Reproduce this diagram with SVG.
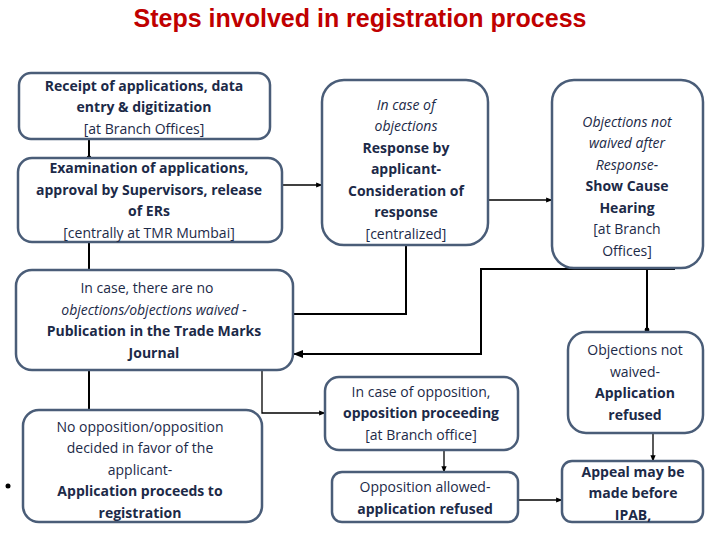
<svg xmlns="http://www.w3.org/2000/svg" width="720" height="540" viewBox="0 0 720 540">
<style>
.b{fill:#fff;stroke:#4a5d78;stroke-width:2.5}
text{font-family:"Open Sans","Noto Sans",sans-serif;font-size:14px;fill:#1c2a48;text-anchor:middle}
.t{font-family:"Liberation Sans",Arial,sans-serif;font-size:25px;font-weight:bold;fill:#c00000}
.bd{font-weight:bold}.i{font-style:italic}
.c{fill:none;stroke:#000;stroke-width:2}
.c1{fill:none;stroke:#000;stroke-width:1.3}
</style>
<defs><marker id="a" viewBox="0 0 10 10" refX="9" refY="5" markerWidth="5" markerHeight="5" orient="auto"><path d="M0,1 L10,5 L0,9 z" fill="#000"/></marker>
<marker id="d" viewBox="0 0 10 10" refX="5" refY="5" markerWidth="3" markerHeight="3"><circle cx="5" cy="5" r="4" fill="#000"/></marker></defs>
<text class="t" x="360" y="27">Steps involved in registration process</text>
<g id="connectors">
<path class="c" d="M89,139 V158" marker-end="url(#d)"/>
<path class="c" d="M89,242 V270"/>
<path class="c1" d="M282,185 H322" marker-end="url(#a)"/>
<path class="c1" d="M488,200 H552" marker-end="url(#a)"/>
<path class="c" d="M406,245 V314 H290" marker-end="url(#d)"/>
<path class="c" d="M675,269 H481 V354 H294" marker-end="url(#a)"/>
<path class="c" d="M647,269 V330" marker-end="url(#d)"/>
<path class="c" d="M89,370 V410"/>
<path class="c1" d="M262,370 V413 H325" marker-end="url(#a)"/>
<path class="c1" d="M444,450 V472" marker-end="url(#a)"/>
<path class="c1" d="M653,433 V461" marker-end="url(#a)"/>
<path class="c1" d="M518,500 H562" marker-end="url(#a)"/>
</g>
<g id="n1"><rect class="b" x="19" y="73" width="251" height="66" rx="12"/>
<text class="bd" x="144" y="91">Receipt of applications, data</text><text class="bd" x="144" y="112">entry &amp; digitization</text><text x="144" y="134">[at  Branch Offices]</text></g>
<g id="n2"><rect class="b" x="18" y="158" width="264" height="84" rx="14"/>
<text class="bd" x="149" y="173">Examination of applications,</text><text class="bd" x="149" y="195">approval by Supervisors, release</text><text class="bd" x="149" y="216">of ERs</text><text x="149" y="238">[centrally at TMR Mumbai]</text></g>
<g id="n3"><rect class="b" x="322" y="80" width="166" height="165" rx="22"/>
<text class="i" x="406" y="110">In case of</text><text class="i" x="406" y="131">objections</text><text class="bd" x="406" y="153">Response by</text><text class="bd" x="406" y="174">applicant-</text><text class="bd" x="406" y="196">Consideration of</text><text class="bd" x="406" y="217">response</text><text x="406" y="239">[centralized]</text></g>
<g id="n4"><rect class="b" x="552" y="80" width="151" height="188" rx="22"/>
<text class="i" x="627" y="127">Objections not</text><text class="i" x="627" y="148">waived after</text><text class="i" x="627" y="170">Response-</text><text class="bd" x="627" y="191">Show Cause</text><text class="bd" x="627" y="213">Hearing</text><text x="627" y="234">[at Branch</text><text x="627" y="256">Offices]</text></g>
<g id="n5"><rect class="b" x="16" y="270" width="277" height="100" rx="16"/>
<text x="147" y="293">In case, there are no</text><text class="i" x="154" y="315">objections/objections waived -</text><text class="bd" x="154" y="336">Publication in the Trade Marks</text><text class="bd" x="154" y="358">Journal</text></g>
<g id="n6"><rect class="b" x="568" y="332" width="135" height="101" rx="18"/>
<text x="635" y="355">Objections not</text><text x="635" y="377">waived-</text><text class="bd" x="635" y="398">Application</text><text class="bd" x="635" y="420">refused</text></g>
<g id="n7"><rect class="b" x="325" y="377" width="193" height="73" rx="14"/>
<text x="421" y="397">In case of opposition,</text><text class="bd" x="421" y="418">opposition proceeding</text><text x="421" y="440">[at Branch office]</text></g>
<g id="n8"><rect class="b" x="23" y="410" width="239" height="112" rx="16"/>
<text x="140" y="432">No opposition/opposition</text><text x="140" y="453">decided in favor of the</text><text x="140" y="475">applicant-</text><text class="bd" x="140" y="496">Application proceeds to</text><text class="bd" x="140" y="518">registration</text></g>
<g id="n9"><rect class="b" x="332" y="472" width="186" height="50" rx="10"/>
<text x="425" y="492">Opposition allowed-</text><text class="bd" x="425" y="514">application refused</text></g>
<g id="n10"><rect class="b" x="562" y="461" width="141" height="61" rx="10"/>
<text class="bd" x="633" y="477">Appeal may be</text><text class="bd" x="633" y="498">made before</text><text class="bd" x="633" y="520">IPAB,</text></g>
<circle cx="8" cy="486" r="2.5" fill="#000"/>
</svg>
